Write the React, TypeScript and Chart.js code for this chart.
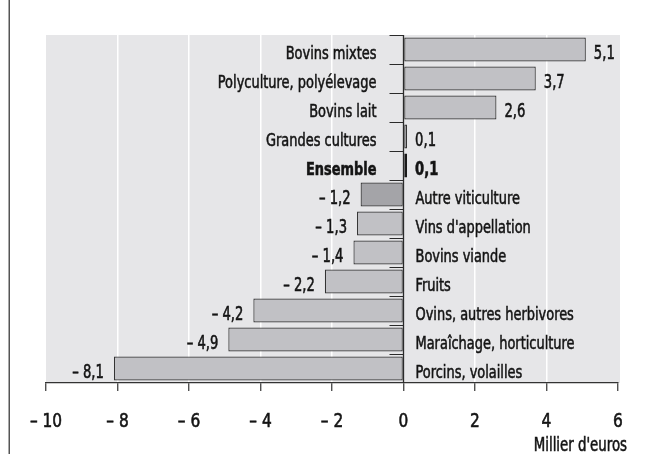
import React, { useEffect, useRef } from "react";
import { Chart, registerables } from "chart.js";

Chart.register(...registerables);

const categories = [
  "Bovins mixtes",
  "Polyculture, polyélevage",
  "Bovins lait",
  "Grandes cultures",
  "Ensemble",
  "Autre viticulture",
  "Vins d'appellation",
  "Bovins viande",
  "Fruits",
  "Ovins, autres herbivores",
  "Maraîchage, horticulture",
  "Porcins, volailles",
];
const values = [5.1, 3.7, 2.6, 0.1, 0.1, -1.2, -1.3, -1.4, -2.2, -4.2, -4.9, -8.1];
const xTicks = [-10, -8, -6, -4, -2, 0, 2, 4, 6];
const axisTitle = "Millier d'euros";
const highlightCategory = "Ensemble";
const darkCategory = "Autre viticulture";

const FONT = '"DejaVu Sans Condensed", "DejaVu Sans", sans-serif';
const TEXT = "#141414";

function fmt(v: number): string {
  const s = Math.abs(v).toFixed(1).replace(".", ",");
  return v < 0 ? "\u2013 " + s : s;
}
function fmtTick(v: number): string {
  return v < 0 ? "\u2013 " + Math.abs(v) : String(v);
}

function drawText(ctx: any, text: string, x: number, y: number, align: string, sx: number, font: string) {
  ctx.save();
  ctx.translate(x, y);
  ctx.scale(sx, 1);
  ctx.font = font;
  ctx.textAlign = align;
  ctx.textBaseline = "alphabetic";
  ctx.fillStyle = TEXT;
  ctx.strokeStyle = TEXT;
  ctx.lineWidth = 0.55;
  ctx.fillText(text, 0, 0);
  ctx.strokeText(text, 0, 0);
  ctx.restore();
}

const bgPlugin = {
  id: "bg",
  beforeDraw(chart: any) {
    const { ctx, chartArea } = chart;
    ctx.save();
    ctx.fillStyle = "#e6e6e8";
    ctx.fillRect(chartArea.left, chartArea.top, chartArea.right - chartArea.left + 2, chartArea.bottom - chartArea.top);
    ctx.fillStyle = "#555";
    ctx.fillRect(8.5, 0, 1.5, chart.height);
    ctx.restore();
  },
};

const labelPlugin = {
  id: "labels",
  afterDatasetsDraw(chart: any) {
    const { ctx, chartArea } = chart;
    const xs = chart.scales.x;
    const ys = chart.scales.y;
    const zero = xs.getPixelForValue(0);
    const meta = chart.getDatasetMeta(0);
    ctx.save();
    ctx.strokeStyle = "#2a2a2a";
    ctx.lineWidth = 1.3;
    ctx.beginPath();
    ctx.moveTo(zero, chartArea.top);
    ctx.lineTo(zero, chartArea.bottom);
    ctx.stroke();
    ctx.lineWidth = 1;
    const step = ys.getPixelForValue(1) - ys.getPixelForValue(0);
    for (let i = 0; i < categories.length; i++) {
      const y = Math.round(ys.getPixelForValue(i) - step / 2) + 0.5;
      ctx.beginPath();
      ctx.moveTo(zero - 14, y);
      ctx.lineTo(zero, y);
      ctx.stroke();
    }
    ctx.restore();

    meta.data.forEach((bar: any, i: number) => {
      const v = values[i];
      const bold = categories[i] === highlightCategory;
      const catFont = (bold ? "bold " : "") + "18px " + FONT;
      const valFont = (bold ? "bold " : "") + "19px " + FONT;
      const yc = bar.y + 9;
      const yv = bar.y + 9;
      if (v >= 0) {
        drawText(ctx, categories[i], zero - 27, yc, "right", 0.8, catFont);
        drawText(ctx, fmt(v), bar.x + 8, yv, "left", 0.77, valFont);
      } else {
        drawText(ctx, categories[i], zero + 12, yc, "left", 0.8, catFont);
        drawText(ctx, fmt(v), bar.x - 10, yv, "right", 0.77, valFont);
      }
    });

    xTicks.forEach((t) => {
      drawText(ctx, fmtTick(t), xs.getPixelForValue(t), 427, "center", 0.9, "19px " + FONT);
    });
    drawText(ctx, axisTitle, 627, 451, "right", 0.78, "19px " + FONT);
  },
};

export default function App() {
  const ref = useRef<HTMLCanvasElement | null>(null);
  useEffect(() => {
    if (!ref.current) return;
    const chart = new Chart(ref.current, {
      type: "bar",
      data: {
        labels: categories,
        datasets: [
          {
            data: values,
            backgroundColor: categories.map((c) => (c === darkCategory ? "#a4a4a8" : "#c1c1c5")),
            borderColor: categories.map((c) => (c === highlightCategory ? "#1a1a1a" : "#333")),
            borderWidth: categories.map((c) => (c === highlightCategory ? 2 : 1.2)),
            borderSkipped: false,
            barPercentage: 0.83,
            categoryPercentage: 1,
          },
        ],
      },
      options: {
        indexAxis: "y",
        animation: false,
        responsive: false,
        maintainAspectRatio: false,
        devicePixelRatio: 1,
        layout: { padding: { top: 35, left: 46, right: 28, bottom: 0 } },
        plugins: { legend: { display: false }, tooltip: { enabled: false }, title: { display: false } },
        scales: {
          x: {
            type: "linear",
            min: -10,
            max: 6,
            afterBuildTicks: (scale: any) => {
              scale.ticks = xTicks.map((v) => ({ value: v }));
            },
            afterFit: (scale: any) => {
              scale.height = 71;
            },
            ticks: {
              callback: (v: any) => fmtTick(Number(v)),
              color: "rgba(0,0,0,0)",
              font: { family: FONT, size: 12 },
              padding: 14,
              maxRotation: 0,
              autoSkip: false,
            },
            grid: {
              color: (c: any) => {
                const v = c.tick ? c.tick.value : 0;
                if (v === -10 || v === 6 || v === 0) return "rgba(0,0,0,0)";
                return "#ffffff";
              },
              lineWidth: 1.5,
              drawTicks: true,
              tickLength: 8,
              tickColor: "#333",
              tickWidth: 1.2,
            },
            border: { display: true, color: "#333", width: 1.2 },
          },
          y: {
            type: "category",
            display: false,
            offset: true,
          },
        },
      },
      plugins: [bgPlugin, labelPlugin],
    } as any);
    return () => chart.destroy();
  }, []);
  return (
    <div style={{ position: "absolute", left: 0, top: 0, width: 646, height: 454, background: "#fff" }}>
      <canvas ref={ref} width={646} height={454} style={{ width: 646, height: 454, display: "block" }} />
    </div>
  );
}
